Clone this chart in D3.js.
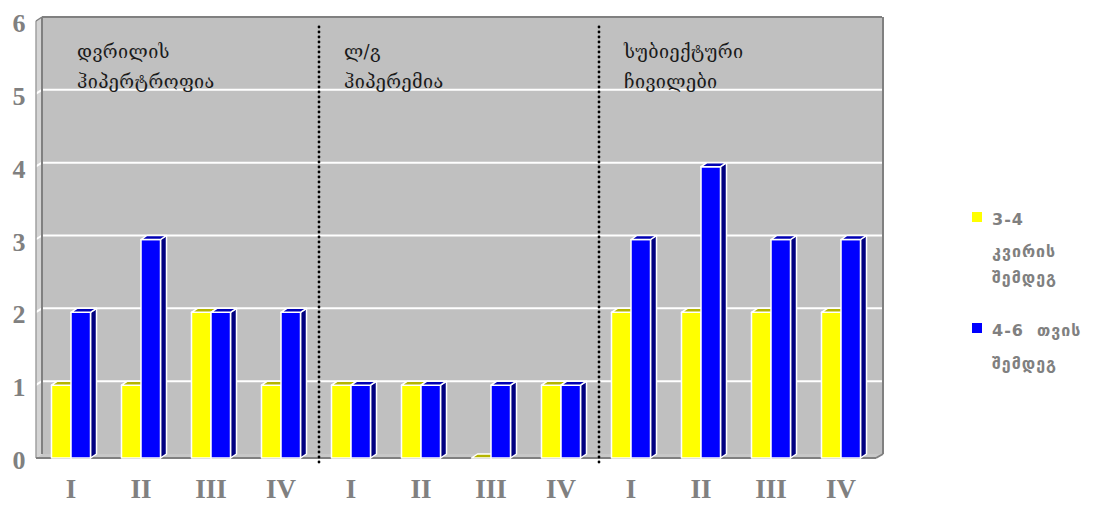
<!DOCTYPE html>
<html>
<head>
<meta charset="utf-8">
<script src="https://cdn.jsdelivr.net/npm/d3@7"></script>
<style>
  html, body { margin: 0; padding: 0; background: #ffffff; }
  svg { display: block; }
</style>
</head>
<body>
<svg id="chart" width="1102" height="505"></svg>
<script>
// Quarters for the three complaint groups
const categories = ["I", "II", "III", "IV", "I", "II", "III", "IV", "I", "II", "III", "IV"];
// Series: 3-4 weeks after vs 4-6 months after
const series34Weeks = [1, 1, 2, 1, 1, 1, 0, 1, 2, 2, 2, 2];
const series46Months = [2, 3, 2, 2, 1, 1, 1, 1, 3, 4, 3, 3];
const yTicks = [0, 1, 2, 3, 4, 5, 6];
const groupTitles = [
  { lines: ["დვრილის", "ჰიპერტროფია"], at: 0 },
  { lines: ["ლ/გ", "ჰიპერემია"], at: 4 },
  { lines: ["სუბიექტური", "ჩივილები"], at: 8 }
];
const groupBreaks = [4, 8];
const legendItems = [
  { color: "#ffff00", lines: ["3-4", "კვირის", "შემდეგ"] },
  { color: "#0000ff", lines: ["4-6  თვის", "შემდეგ"] }
];

const seriesList = [
  { values: series34Weeks, front: "#ffff00", top: "#b4b400", side: "#8c8c00" },
  { values: series46Months, front: "#0000ff", top: "#0000b4", side: "#000080" }
];

const svg = d3.select("#chart");

// 3D depth offset of the back wall
const DX = 6, DY = 4;
const left = 36, right = 876;

const x = d3.scaleBand().domain(d3.range(categories.length)).range([left, right]).padding(0);
const xs = d3.scaleBand().domain([0, 1]).range([15.5, 54.5]).padding(0);
const y = d3.scaleLinear().domain([0, 6]).range([458, 21]);
const y0 = y(0);

const wall = "#c0c0c0", edge = "#808080";

// Back wall
svg.append("rect")
  .attr("x", left + DX).attr("y", y(6) - DY)
  .attr("width", right - left).attr("height", y0 - y(6))
  .attr("fill", wall);

// Left side wall
svg.append("polygon")
  .attr("points", [[left, y(6)], [left + DX, y(6) - DY], [left + DX, y0 - DY], [left, y0]].join(" "))
  .attr("fill", "#d4d4d4");

// Floor
svg.append("polygon")
  .attr("points", [[left, y0], [left + DX, y0 - DY], [right + DX, y0 - DY], [right, y0]].join(" "))
  .attr("fill", "#c8c8c8");

// Gridlines on back wall and side wall
const grid = svg.append("g");
yTicks.filter(v => v > 0 && v < 6).forEach(v => {
  grid.append("line")
    .attr("x1", left + DX).attr("x2", right + DX)
    .attr("y1", y(v) - DY).attr("y2", y(v) - DY)
    .attr("stroke", "#ffffff").attr("stroke-width", 2);
  grid.append("line")
    .attr("x1", left - 2).attr("x2", left + DX)
    .attr("y1", y(v) + 1).attr("y2", y(v) - DY)
    .attr("stroke", "#ffffff").attr("stroke-width", 2);
});

// Wall edges
svg.append("line").attr("x1", left + DX).attr("x2", right + DX)
  .attr("y1", y(6) - DY).attr("y2", y(6) - DY)
  .attr("stroke", edge).attr("stroke-width", 2);
svg.append("line").attr("x1", right + DX + 1).attr("x2", right + DX + 1)
  .attr("y1", y(6) - DY).attr("y2", y0 - DY)
  .attr("stroke", edge).attr("stroke-width", 2);
svg.append("line").attr("x1", left + DX).attr("x2", left + DX)
  .attr("y1", y(6) - DY).attr("y2", y0 - DY)
  .attr("stroke", edge).attr("stroke-width", 2);
svg.append("line").attr("x1", left).attr("x2", left)
  .attr("y1", y(6)).attr("y2", y0)
  .attr("stroke", "#a0a0a0").attr("stroke-width", 1.5);
svg.append("line").attr("x1", left).attr("x2", left + DX)
  .attr("y1", y(6)).attr("y2", y(6) - DY)
  .attr("stroke", edge).attr("stroke-width", 1.5);
svg.append("line").attr("x1", left).attr("x2", right)
  .attr("y1", y0).attr("y2", y0)
  .attr("stroke", edge).attr("stroke-width", 2);
svg.append("line").attr("x1", right).attr("x2", right + DX + 1)
  .attr("y1", y0).attr("y2", y0 - DY)
  .attr("stroke", edge).attr("stroke-width", 2);

// Bars
const bars = svg.append("g");
categories.forEach((c, i) => {
  seriesList.forEach((s, k) => {
    const v = s.values[i];
    const bx = x(i) + xs(k);
    const bw = xs.bandwidth();
    const by = y(v);
    const g = bars.append("g")
      .attr("stroke", "#ffffff").attr("stroke-width", 1.5).attr("stroke-linejoin", "round");
    g.append("polygon")
      .attr("points", [[bx + bw, by], [bx + bw + DX, by - DY], [bx + bw + DX, y0 - DY], [bx + bw, y0]].join(" "))
      .attr("fill", s.side);
    g.append("rect")
      .attr("x", bx).attr("y", by).attr("width", bw).attr("height", y0 - by)
      .attr("fill", s.front);
    g.append("polygon")
      .attr("points", [[bx, by], [bx + DX, by - DY], [bx + bw + DX, by - DY], [bx + bw, by]].join(" "))
      .attr("fill", s.top);
  });
});

// Dotted group separators
groupBreaks.forEach(b => {
  const gx = x(b) + DX / 2;
  svg.append("line")
    .attr("x1", gx).attr("x2", gx)
    .attr("y1", 27).attr("y2", 463)
    .attr("stroke", "#000000").attr("stroke-width", 2.8)
    .attr("stroke-linecap", "round").attr("stroke-dasharray", "0 5");
});

// Group titles
groupTitles.forEach((t, i) => {
  const tx = x(t.at) + (i === 0 ? 41 : 28);
  const txt = svg.append("text")
    .attr("font-family", "'DejaVu Serif', 'DejaVu Sans', serif")
    .attr("font-size", 18).attr("fill", "#1a1a1a").attr("letter-spacing", 0.4);
  t.lines.forEach((ln, j) => {
    txt.append("tspan").attr("x", tx).attr("y", 58 + j * 30).text(ln);
  });
});

// Y axis tick labels
svg.append("g").selectAll("text").data(yTicks).join("text")
  .attr("x", 19).attr("y", d => y(d) + 11)
  .attr("text-anchor", "middle")
  .attr("font-family", "'Liberation Serif', serif").attr("font-weight", "bold")
  .attr("font-size", 26).attr("fill", "#808080")
  .text(d => d);

// Category labels
svg.append("g").selectAll("text").data(categories).join("text")
  .attr("x", (d, i) => x(i) + x.bandwidth() / 2)
  .attr("y", 498)
  .attr("text-anchor", "middle")
  .attr("font-family", "'Liberation Serif', serif").attr("font-weight", "bold")
  .attr("font-size", 27).attr("fill", "#808080")
  .text(d => d);

// Legend
const legend = svg.append("g");
const legendTop = [212, 323];
const lineOffsets = [[13, 45, 71], [13, 46]];
legendItems.forEach((it, i) => {
  const ly = legendTop[i];
  legend.append("rect").attr("x", 972).attr("y", ly).attr("width", 10).attr("height", 10)
    .attr("fill", it.color);
  const txt = legend.append("text")
    .attr("font-family", "'DejaVu Sans', sans-serif").attr("font-weight", "bold")
    .attr("font-size", 16).attr("fill", "#808080").attr("letter-spacing", 1)
    .attr("xml:space", "preserve");
  it.lines.forEach((ln, j) => {
    txt.append("tspan").attr("x", 992).attr("y", ly + lineOffsets[i][j]).text(ln);
  });
});
</script>
</body>
</html>
